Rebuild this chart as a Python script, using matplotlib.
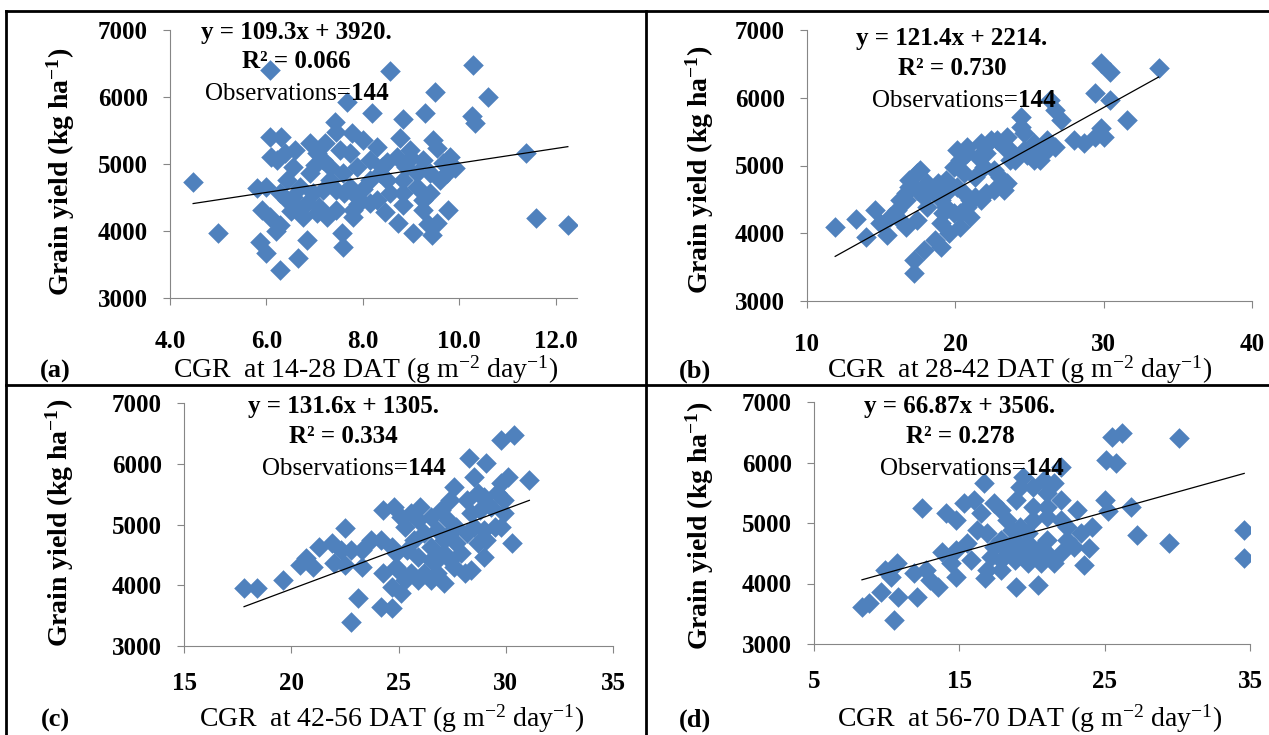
import matplotlib
matplotlib.use("Agg")
import numpy as np
import matplotlib.pyplot as plt
from matplotlib.lines import Line2D

plt.rcParams['font.family'] = ['Liberation Serif', 'DejaVu Serif']
plt.rcParams['mathtext.default'] = 'regular'

W, H = 1269, 735

# ---- data ----
a_x = [4.48, 5.0, 6.07, 8.56, 10.28, 9.49, 10.6, 7.67, 8.19, 8.83, 9.28, 10.26, 10.32, 11.38, 11.59, 12.25,
       6.28, 6.65, 5.87, 6.0, 7.59, 7.56, 6.84, 9.04, 9.43, 9.53, 9.76, 8.72, 8.46, 8.83, 9.24, 9.39,
       6.07, 6.3, 6.1, 5.8, 6.0, 5.9, 6.07, 6.28, 6.9, 6.6, 7.42, 7.45, 7.77, 8.0, 8.3, 8.77, 8.97,
       9.45, 9.53, 9.8, 9.9, 8.5, 8.14, 7.05, 7.17, 6.55, 6.42, 6.7, 6.9, 7.32, 7.59, 7.74, 7.88, 8.15,
       8.5, 8.83, 9.12, 9.39, 9.6, 9.12, 8.56, 8.15, 7.8, 7.45, 7.1, 6.84, 6.63, 6.42, 6.28, 6.76, 7.05,
       7.25, 7.8, 8.29, 8.83, 9.24, 7.88, 7.45, 7.17, 6.97, 6.55, 7.74, 8.7, 9.24, 9.66, 9.74, 8.35,
       7.32, 7.52, 7.21, 6.38, 6.22, 7.6, 8.0, 8.4, 7.0, 6.5, 8.9, 9.0, 7.9, 6.2, 9.35]
a_y = [4730, 3970, 6400, 6390, 6480, 6075, 6000, 5925, 5760, 5670, 5760, 5720, 5610, 5160, 4190, 4090,
       3420, 3600, 3840, 3670, 3760, 3970, 3870, 3970, 3940, 4120, 4310, 4120, 4280, 4390, 4310, 4570,
       5400, 5400, 5100, 4640, 4660, 4310, 4210, 4090, 5310, 5210, 5630, 5480, 5460, 5360, 5250, 5390, 5210,
       5360, 5240, 5100, 4940, 5030, 5060, 5160, 5060, 4960, 4760, 4660, 4860, 4760, 4860, 4660, 4510, 4760,
       4760, 4760, 4860, 4860, 4760, 4660, 4570, 4420, 4310, 4310, 4360, 4420, 4360, 4460, 4570, 4210, 4270,
       4210, 4210, 4460, 4570, 4460, 4960, 4610, 4610, 4570, 4510, 5160, 5100, 5060, 5010, 4860, 4860,
       4960, 5210, 5310, 5160, 5060, 4560, 4620, 4950, 4980, 4300, 4950, 5090, 4400, 4000, 4100]

b_x = [11.9, 13.3, 14.6, 14.0, 15.4, 17.2, 17.2, 17.9, 18.6, 19.0, 19.6, 20.3, 21.0, 21.7, 22.6, 23.5,
       23.3, 16.1, 16.7, 16.9, 17.4, 17.6, 16.9, 18.1, 18.6, 19.0, 19.4, 19.9, 18.1, 17.4, 16.7, 16.3,
       18.8, 19.4, 19.9, 20.3, 20.8, 21.5, 22.1, 22.8, 23.3, 20.6, 21.3, 21.9, 22.6, 23.7, 24.4, 24.4,
       24.6, 25.3, 25.7, 25.3, 26.2, 26.7, 26.7, 27.1, 26.4, 28.0, 28.7, 29.4, 29.8, 30.0, 29.4, 29.8,
       30.4, 30.4, 31.6, 33.7, 25.7, 24.8, 24.0, 23.0, 22.1, 21.3, 20.6, 20.1, 19.4, 20.8, 20.3, 21.0,
       17.9, 17.4, 16.7, 16.3, 15.6, 14.9, 19.2, 19.0, 21.7, 20.8, 20.1, 22.4, 23.5, 23.7, 24.6, 26.2]
b_y = [4090, 4210, 4340, 3945, 3975, 3410, 3600, 3750, 3900, 3800, 4000, 4090, 4240, 4490, 4640, 4740,
       4640, 4340, 4490, 4680, 4890, 4930, 4790, 4740, 4590, 4490, 4390, 4300, 4390, 4200, 4090, 4200,
       4740, 4790, 4980, 5080, 5180, 5125, 5180, 5380, 5270, 4890, 4830, 4980, 4930, 5080, 5720, 5570,
       5480, 5330, 5230, 5080, 5380, 5270, 5820, 5670, 5970, 5380, 5330, 5420, 5550, 5420, 6070, 6510,
       6380, 5970, 5670, 6440, 5080, 5155, 5080, 4830, 4590, 4535, 4590, 4680, 4590, 4390, 4300, 4490,
       4535, 4640, 4590, 4490, 4240, 4150, 4300, 4150, 5330, 5270, 5230, 5380, 5420, 5230, 5230, 5230]

c_x = [17.8, 18.4, 19.6, 20.4, 20.7, 21.0, 21.3, 21.9, 22.5, 22.3, 22.8, 23.3, 22.0, 22.5, 23.3, 23.1,
       22.8, 24.2, 24.7, 24.2, 24.3, 24.8, 24.3, 24.7, 25.1, 25.3, 24.9, 25.3, 25.6, 25.9, 25.7, 26.2,
       25.9, 26.2, 26.5, 26.8, 27.1, 27.3, 27.4, 27.6, 27.1, 27.6, 27.9, 28.2, 28.4, 28.2, 28.3, 28.5,
       29.1, 28.4, 29.0, 29.5, 29.6, 29.8, 30.1, 29.9, 29.8, 30.4, 30.3, 31.1, 23.7, 24.7, 24.9, 25.4,
       26.5, 26.8, 27.7, 28.5, 28.8, 29.0, 29.3, 28.7, 27.0, 26.5, 26.0, 25.1, 27.4, 28.1, 28.7, 29.1,
       27.7, 27.1, 25.9, 25.6, 26.8, 29.0, 29.8, 29.9, 27.4, 26.5, 25.1]
c_y = [3955, 3955, 4085, 4335, 4450, 4300, 4630, 4695, 4940, 4580, 4580, 4580, 4365, 4335, 4300, 3790,
       3400, 3640, 3620, 4745, 5240, 5290, 4200, 3975, 3870, 4085, 4300, 4960, 5190, 5075, 4745, 4860,
       4465, 4200, 4085, 4415, 4745, 5075, 5405, 5620, 4035, 4300, 4530, 4860, 5190, 5405, 6090, 5780,
       6010, 4250, 4465, 4960, 5520, 5680, 5780, 5190, 6390, 6475, 4695, 5730, 4745, 4630, 4530, 4580,
       4630, 4910, 4960, 4960, 5240, 5450, 5290, 5520, 5240, 5125, 5290, 5125, 4415, 4200, 4695, 4745,
       4695, 4530, 4085, 4200, 4200, 4910, 4960, 5405, 4860, 4415, 4200]

d_x = [8.3, 8.8, 10.5, 9.6, 10.8, 12.1, 9.9, 10.3, 12.4, 12.7, 13.5, 13.0, 13.8, 14.1, 14.8, 14.8,
       14.4, 15.5, 15.3, 16.0, 16.7, 16.5, 17.4, 16.8, 17.2, 17.9, 17.9, 18.3, 18.9, 18.9, 19.2, 19.4,
       20.1, 20.4, 19.7, 18.8, 19.7, 20.8, 21.0, 22.0, 22.0, 21.5, 21.0, 20.6, 22.4, 23.1, 23.4, 24.1,
       23.9, 23.6, 25.0, 25.2, 25.1, 25.8, 25.5, 26.2, 26.8, 27.2, 29.4, 30.1, 34.6, 34.6, 14.8, 15.8,
       16.2, 16.9, 17.4, 18.3, 19.2, 20.1, 21.0, 22.0, 22.9, 19.2, 20.1, 21.0, 22.0, 17.9, 20.1, 21.0,
       21.5, 18.8, 20.6, 19.7, 22.4, 17.9, 16.9, 18.6, 19.7, 11.9, 10.7]
d_y = [3610, 3680, 3400, 3860, 3780, 3780, 4220, 4110, 5250, 4220, 3940, 4060, 4520, 5160, 5050, 4110,
       4340, 4670, 5330, 5380, 5660, 5160, 5330, 4090, 4440, 4720, 4390, 5050, 3940, 5380, 5600, 5760,
       5600, 3970, 4390, 4720, 4830, 5710, 5500, 5930, 5380, 4340, 4720, 4600, 4720, 5210, 4830, 4940,
       4590, 4310, 5380, 5200, 6040, 5990, 6420, 6490, 5270, 4800, 4670, 6400, 4880, 4420, 4550, 4390,
       4880, 4830, 4600, 4550, 4500, 4500, 4500, 4500, 4600, 4940, 5050, 5100, 5050, 5210, 5270, 5270,
       5660, 4390, 4340, 4340, 4940, 4220, 4220, 4880, 4670, 4170, 4340]

slopes = [109.3, 121.4, 131.6, 66.87]
intercepts = [3920, 2214, 1305, 3506]
eq_labels = ["y = 109.3x + 3920.", "y = 121.4x + 2214.", "y = 131.6x + 1305.", "y = 66.87x + 3506."]
r2_labels = ["R\u00b2 = 0.066", "R\u00b2 = 0.730", "R\u00b2 = 0.334", "R\u00b2 = 0.278"]
n_obs = "144"
panel_tags = ["(a)", "(b)", "(c)", "(d)"]
periods = ["14-28", "28-42", "42-56", "56-70"]
x_ticks = [[4, 6, 8, 10, 12], [10, 20, 30, 40], [15, 20, 25, 30, 35], [5, 15, 25, 35]]
x_limits = [(4, 12.44), (10, 40), (15, 35), (5, 35)]
y_ticks = [3000, 4000, 5000, 6000, 7000]

xs = [a_x, b_x, c_x, d_x]
ys = [a_y, b_y, c_y, d_y]

# ---- layout in pixels ----
ax_px = [(170, 30, 577, 298), (807, 30, 1252, 301), (184, 403, 613, 646), (814, 402, 1250, 644)]
xpads = [18, 18, 14, 14]
eq_pos = [(296, 39, 68, 100, 351), (952, 45, 75, 107, 1018),
          (343, 413, 443, 475, 408), (960, 413, 443, 475, 1026)]
xlab_pos = [(366, 378), (1020, 378), (392, 727), (1030, 727)]
tag_pos = [(40, 378), (679, 378), (41, 727), (679, 727)]
ylab_pos = [(61, 172), (700, 170), (60, 523), (700, 526)]


def fx(p):
    return p / W


def fy(p):
    return 1 - p / H


fig = plt.figure(figsize=(W / 100, H / 100), dpi=100)
fig.patch.set_facecolor('white')

gray = '#868686'
blue = '#4F81BD'

for i in range(4):
    l, t, r, b = ax_px[i]
    ax = fig.add_axes([fx(l), fy(b), (r - l) / W, (b - t) / H])
    ax.scatter(xs[i], ys[i], marker='D', s=110, color=blue, linewidths=0, zorder=2)
    xl = np.array([min(xs[i]), max(xs[i])])
    ax.plot(xl, slopes[i] * xl + intercepts[i], color='black', lw=0.9, zorder=3)
    ax.set_xlim(*x_limits[i])
    ax.set_ylim(3000, 7000)
    ax.set_xticks(x_ticks[i])
    if i == 0:
        ax.set_xticklabels(["%.1f" % v for v in x_ticks[i]])
    ax.set_yticks(y_ticks)
    for s in ['top', 'right']:
        ax.spines[s].set_visible(False)
    for s in ['left', 'bottom']:
        ax.spines[s].set_color(gray)
        ax.spines[s].set_linewidth(0.8)
    ax.tick_params(axis='both', direction='out', length=5, width=0.8, color=gray,
                   labelsize=18, labelcolor='black')
    ax.tick_params(axis='x', pad=xpads[i])
    ax.tick_params(axis='y', pad=11)
    for lab in ax.get_xticklabels() + ax.get_yticklabels():
        lab.set_fontweight('bold')
    ax.patch.set_alpha(0)

    cx, b1, b2, b3, split = eq_pos[i]
    fig.text(fx(cx), fy(b1), eq_labels[i], ha='center', va='baseline', fontsize=18, fontweight='bold')
    fig.text(fx(cx), fy(b2), r2_labels[i], ha='center', va='baseline', fontsize=18, fontweight='bold')
    fig.text(fx(split), fy(b3), "Observations=", ha='right', va='baseline', fontsize=18)
    fig.text(fx(split), fy(b3), n_obs, ha='left', va='baseline', fontsize=18, fontweight='bold')

    xc, xb = xlab_pos[i]
    fig.text(fx(xc), fy(xb), "CGR  at %s DAT (g m$^{-2}$ day$^{-1}$)" % periods[i],
             ha='center', va='baseline', fontsize=20)
    tx, tb = tag_pos[i]
    fig.text(fx(tx), fy(tb), panel_tags[i], ha='left', va='baseline', fontsize=19, fontweight='bold')
    yx, yc = ylab_pos[i]
    fig.text(fx(yx), fy(yc), "Grain yield (kg ha$^{-1}$)", ha='center', va='center',
             rotation=90, fontsize=20, fontweight='bold')

# table borders
lw = 2.0
fig.add_artist(Line2D([fx(6), 1], [fy(11), fy(11)], color='black', lw=lw))
fig.add_artist(Line2D([fx(6.5), fx(6.5)], [fy(11), 0], color='black', lw=lw))
fig.add_artist(Line2D([fx(646), fx(646)], [fy(11), 0], color='black', lw=lw))
fig.add_artist(Line2D([fx(6), 1], [fy(385), fy(385)], color='black', lw=lw))

fig.savefig("out.png", dpi=100)
